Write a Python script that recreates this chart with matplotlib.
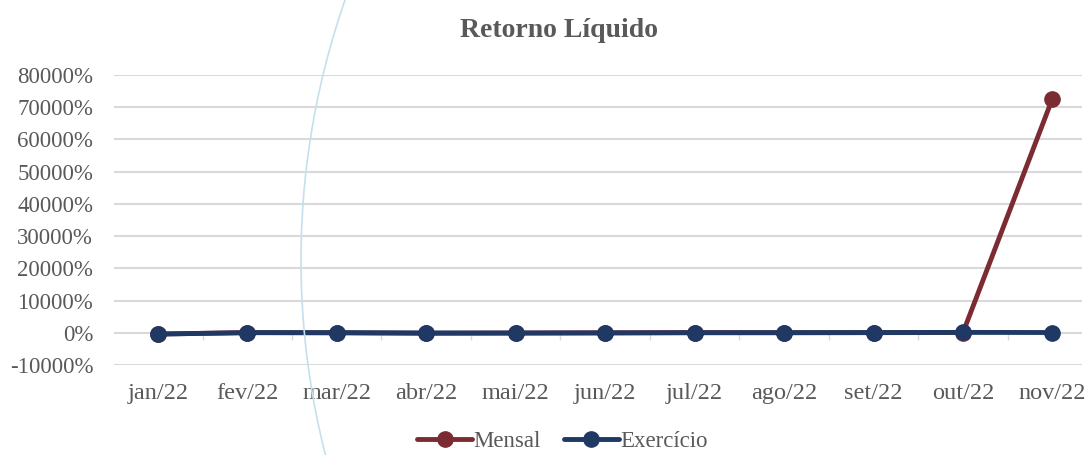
import matplotlib
matplotlib.use("Agg")
import matplotlib.pyplot as plt
from matplotlib.patches import Circle
from matplotlib.ticker import FuncFormatter

months = ["jan/22", "fev/22", "mar/22", "abr/22", "mai/22", "jun/22",
          "jul/22", "ago/22", "set/22", "out/22", "nov/22"]
mensal = [-400, 50, 0, -150, -80, 0, 60, 30, 40, 80, 72700]
exercicio = [-400, 40, 30, -60, -70, -50, 10, 30, 60, 120, 80]

red = "#7b2c32"
navy = "#1f3864"
grey = "#595959"
grid = "#d9d9d9"

plt.rcParams["font.family"] = ["Liberation Serif", "DejaVu Serif"]

fig = plt.figure(figsize=(10.9, 4.55), dpi=100)

# decorative background arc
arc = Circle((10.91, 1.95), 7.9, transform=fig.dpi_scale_trans, fill=False,
             color="#c5e0ec", lw=1.2, zorder=0)
fig.patches.append(arc)

ax = fig.add_axes([114 / 1090, 90 / 455, 968 / 1090, 290 / 455])
ax.patch.set_alpha(0)

x = list(range(len(months)))
ax.plot(x, mensal, color=red, lw=3.5, marker="o", ms=11, label="Mensal",
        solid_capstyle="round", zorder=3)
ax.plot(x, exercicio, color=navy, lw=3.5, marker="o", ms=11, label="Exercício",
        solid_capstyle="round", zorder=4)

# small category tick marks on the zero line
bounds = [i + 0.5 for i in x[:-1]]
ax.plot(bounds, [0] * len(bounds), ls="", marker=3, ms=5, color=grid, zorder=2)

ax.set_ylim(-10000, 80000)
ax.set_xlim(-0.49, 10.33)
ax.set_yticks(range(-10000, 80001, 10000))
ax.yaxis.set_major_formatter(FuncFormatter(lambda v, p: f"{int(v)}%"))
ax.set_xticks(x)
ax.set_xticklabels(months)
ax.grid(axis="y", color=grid, lw=1.5)
ax.set_axisbelow(True)
for s in ax.spines.values():
    s.set_visible(False)
ax.tick_params(length=0, colors=grey)
ax.tick_params(axis="x", pad=13, labelsize=17.5)
ax.tick_params(axis="y", pad=15, labelsize=16.5)

fig.text(0.513, 0.933, "Retorno Líquido", ha="center", va="center",
         fontsize=20, fontweight="bold", color=grey)

fig.legend(loc="center", bbox_to_anchor=(0.516, 0.03), ncol=2, frameon=False,
           fontsize=16.5, labelcolor=grey, handlelength=2.4, handletextpad=0.05,
           columnspacing=1.0)

fig.savefig("out.png", dpi=100)
